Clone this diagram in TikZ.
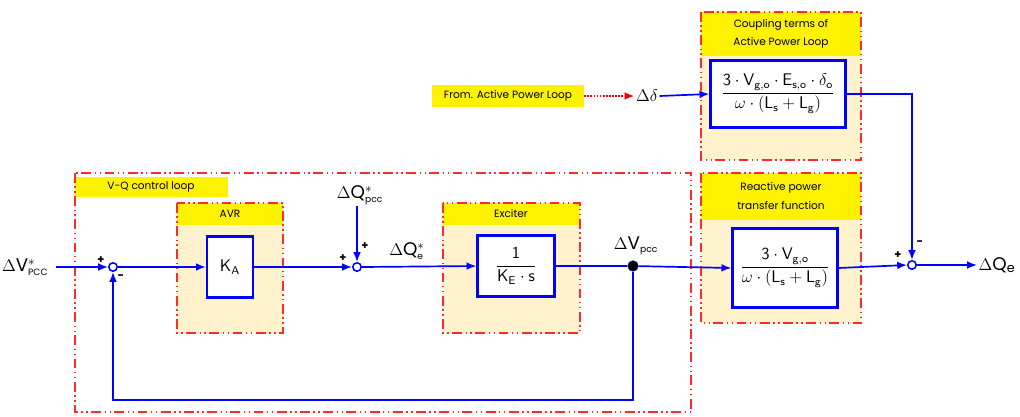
\documentclass[tikz,border=0pt]{standalone}
\usepackage{amsmath}
\usepackage{fontspec}
\setmainfont{Poppins}
\usetikzlibrary{arrows.meta,shadows}
\definecolor{grpfill}{HTML}{FFF2CC}
\definecolor{grpred}{HTML}{FF2A2A}
\tikzset{
  sig/.style={blue, line width=1.2pt, -{Latex[length=7pt,width=5.5pt]}},
  wire/.style={blue, line width=1.2pt},
  blk/.style={draw=blue, line width=1.6pt, fill=white, inner sep=0pt,
    font=\fontsize{12}{14}\selectfont,
    drop shadow={opacity=0.25, shadow xshift=1pt, shadow yshift=-1pt}},
  sumnode/.style={circle, draw=blue, line width=1.1pt, fill=white, inner sep=0pt, minimum size=6pt},
  grp/.style={draw=grpred, line width=1.5pt, dash pattern=on 7pt off 2.5pt on 1pt off 2.5pt on 1pt off 2.5pt},
  hdr/.style={font=\fontsize{7.5}{13}\selectfont, align=center, inner sep=0pt},
  sgn/.style={font=\bfseries\fontsize{8}{8}\selectfont, inner sep=0pt},
  var/.style={font=\fontsize{13}{16}\selectfont, inner sep=1pt},
}

\begin{document}
\begin{tikzpicture}[x=0.025cm, y=-0.025cm]
  \useasboundingbox (0,0) rectangle (1020,416);

  % group boxes
  \fill[grpfill] (177,203) rectangle (283,333);
  \fill[yellow] (177,203) rectangle (283,225);
  \draw[grp] (177,203) rectangle (283,333);
  \node[hdr] (avrlbl) at (230,214) {AVR};

  \fill[grpfill] (443,203) rectangle (580,333);
  \fill[yellow] (443,203) rectangle (580,225);
  \draw[grp] (443,203) rectangle (580,333);
  \node[hdr] (exclbl) at (511,214) {Exciter};

  \fill[grpfill] (701,173) rectangle (861,323);
  \fill[yellow] (701,173) rectangle (861,220);
  \draw[grp] (701,173) rectangle (861,323);
  \node[hdr] (rctlbl) at (781,196) {Reactive power\\transfer function};

  \fill[grpfill] (701,12) rectangle (861,160);
  \fill[yellow] (701,12) rectangle (861,56);
  \draw[grp] (701,12) rectangle (861,160);
  \node[hdr] (cpllbl) at (781,34) {Coupling terms of\\Active Power Loop};

  \fill[yellow] (75,177) rectangle (228,197);
  \draw[grp] (75,173) rectangle (691,412);
  \node[hdr] (vqlbl) at (151,187) {V-Q control loop};

  % blocks
  \node[blk, minimum width=1.15cm, minimum height=1.525cm] (ka) at (230,267) {$\mathsf{K}_{\mathsf{A}}$};
  \node[blk, minimum width=1.925cm, minimum height=1.525cm] (exc) at (516,266)
    {$\dfrac{\mathsf{1}}{\mathsf{K}_{\mathsf{E}}\cdot\mathsf{s}}$};
  \node[blk, minimum width=2.625cm, minimum height=1.975cm] (rct) at (785,268)
    {$\dfrac{\mathsf{3}\cdot\mathsf{V}_{\mathsf{g,o}}}{\omega\cdot\left(\mathsf{L}_{\mathsf{s}}+\mathsf{L}_{\mathsf{g}}\right)}$};
  \node[blk, minimum width=3.375cm, minimum height=1.675cm] (cpl) at (778,94)
    {$\dfrac{\mathsf{3}\cdot\mathsf{V}_{\mathsf{g,o}}\cdot\mathsf{E}_{\mathsf{s,o}}\cdot\delta_{\mathsf{o}}}{\omega\cdot\left(\mathsf{L}_{\mathsf{s}}+\mathsf{L}_{\mathsf{g}}\right)}$};

  % summing points
  \node[sumnode] (s1) at (113,267) {};
  \node[sumnode] (s2) at (357,267) {};
  \node[sumnode] (s3) at (912,265) {};
  \node[circle, fill=black, draw=blue!40!black, inner sep=0pt, minimum size=7.5pt] (vdot) at (633,266) {};
  \coordinate (fb) at (633,400);

  % signals
  \node[var, anchor=east] (vin) at (50,267) {$\Delta\mathrm{V}^{*}_{\scriptscriptstyle\mathrm{PCC}}$};
  \node[var] (qref) at (360,195) {$\Delta\mathrm{Q}^{*}_{\scriptscriptstyle\mathrm{pcc}}$};
  \node[var] (qe) at (407,251) {$\Delta\mathrm{Q}^{*}_{\scriptscriptstyle\mathrm{e}}$};
  \node[var] (vpcc) at (636,246) {$\Delta\mathrm{V}_{\scriptscriptstyle\mathrm{pcc}}$};
  \node[var, anchor=west] (qout) at (977,265) {$\Delta\mathrm{Q}_{\mathrm{e}}$};
  \node[var] (dd) at (647,96) {$\Delta\delta$};
  \node[fill=yellow, font=\fontsize{7.5}{9}\selectfont, minimum width=3.8cm, minimum height=0.55cm] (from) at (508,96) {From. Active Power Loop};

  % signs
  \node[sgn] (p1) at (101,260) {+};
  \node[sgn] (m1) at (121,277) {-};
  \node[sgn] (p2) at (343,258) {+};
  \node[sgn] (p3) at (365,246) {+};
  \node[sgn] (p4) at (898,255) {+};
  \node[sgn] (m3) at (920,243) {-};

  % connectors
  \draw[sig] (vin.east) ++(6,0) -- (s1.west);
  \draw[sig] (s1.east) -- (ka.west);
  \draw[sig] (ka.east) -- (s2.west);
  \draw[sig] (s2 |- qref.south) -- (s2.north);
  \draw[sig] (s2.east) -- (exc.west);
  \draw[wire] (exc.east) -- (vdot);
  \draw[sig] (vdot) -- (rct.west);
  \draw[sig] (vdot.south) -- (fb) -| (s1.south);
  \draw[sig] (rct.east) -- (s3.west);
  \draw[sig] (cpl.east) -| (s3.north);
  \draw[sig] (s3.east) -- (qout.west);
  \draw[sig] (dd.east) -- (cpl.west);
  \draw[red, densely dotted, line width=1.2pt, -{Latex[length=7pt,width=5.5pt]}] (from.east) -- (dd.west);
\end{tikzpicture}
\end{document}
